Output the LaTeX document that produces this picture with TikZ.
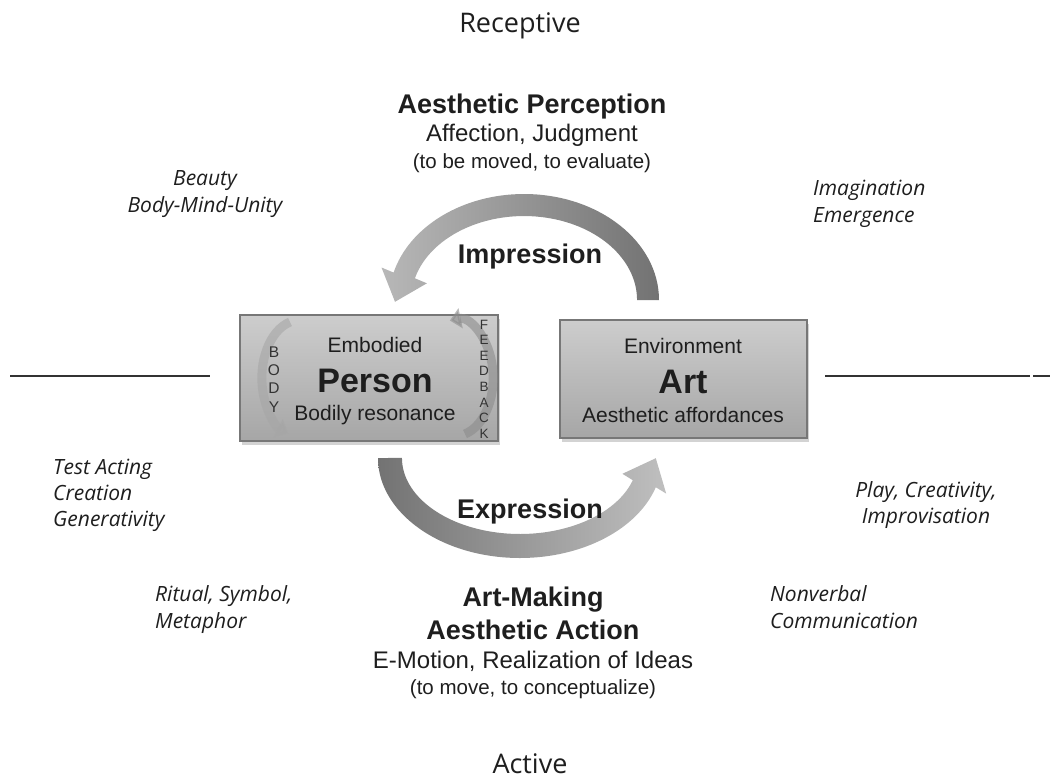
\documentclass[tikz,border=0pt]{standalone}
\usepackage{fontspec}
\setmainfont{Liberation Sans}
\newfontfamily\osans{Open Sans}
\usetikzlibrary{arrows.meta,shadows}
\newcommand\myfs[1]{\fontsize{#1}{#1}\selectfont}
\definecolor{txt}{HTML}{1E1E1E}
\definecolor{boxtop}{HTML}{CDCDCD}
\definecolor{boxbot}{HTML}{A6A6A6}
\definecolor{boxedge}{HTML}{777777}
\definecolor{linec}{HTML}{333333}
\tikzset{
  lbl/.style={inner sep=0pt, text=txt},
  head/.style={lbl, font=\bfseries\myfs{27}, anchor=base},
  sub/.style={lbl, font=\myfs{24}, anchor=base},
  paren/.style={lbl, font=\myfs{20.5}, anchor=base},
  sidel/.style={lbl, font=\osans\itshape\myfs{21}, anchor=base west},
  sidec/.style={lbl, font=\osans\itshape\myfs{21}, anchor=base},
  pole/.style={lbl, font=\osans\myfs{27}, anchor=base},
  boxbig/.style={lbl, font=\bfseries\myfs{34}, anchor=base},
  boxsm/.style={lbl, font=\myfs{21}, anchor=base},
  letter/.style={lbl, anchor=base, text=black!80},
  pbox/.style={draw=boxedge, line width=1.5pt, top color=boxtop, bottom color=boxbot,
    drop shadow={shadow xshift=2pt, shadow yshift=-4pt, opacity=0.35}, inner sep=0pt},
  axisline/.style={draw=linec, line width=2pt},
  smallarc/.style={line width=9pt, opacity=0.6, -{Triangle[width=20pt,length=11pt]}},
}
\begin{document}
\begin{tikzpicture}[x=1pt,y=-1pt]
\useasboundingbox (0,0) rectangle (1050,780);

% poles
\node[pole] (rec) at (520,32) {Receptive};
\node[pole] (act) at (530,773) {Active};

% axis lines
\coordinate (l1) at (10,376); \coordinate (l2) at (210,376);
\coordinate (r1) at (825,376); \coordinate (r2) at (1030,376);
\coordinate (r3) at (1033,376); \coordinate (r4) at (1050,376);
\draw[axisline] (l1) -- (l2);
\draw[axisline] (r1) -- (r2);
\draw[axisline] (r3) -- (r4);

% top headings
\node[head] (ap) at (532,113) {Aesthetic Perception};
\node[sub] (aj) at (532,141) {Affection, Judgment};
\node[paren] (tbm) at (532,168) {(to be moved, to evaluate)};

% Impression arrow
\shade[left color=black!28, right color=black!55]
  (659,300) arc[start angle=0,end angle=-165,x radius=135,y radius=106]
  -- (381.5,267.5) -- (395.0,301.8) -- (426.9,283.3) -- (414.9,278.3)
  arc[start angle=-165,end angle=0,x radius=113,y radius=84] -- cycle;
\node[head] (imp) at (530,263) {Impression};

% Expression arrow
\shade[left color=black!55, right color=black!25]
  (378,458) arc[start angle=180,end angle=17,x radius=142,y radius=100]
  -- (666.2,493.6) -- (655.8,458.2) -- (622.4,473.8) -- (632.8,480.2)
  arc[start angle=17,end angle=180,x radius=118,y radius=76] -- cycle;
\node[head] (exp) at (530,518) {Expression};

% boxes
\node[pbox, minimum width=258pt, minimum height=126pt] (person) at (369,378) {};
\node[pbox, minimum width=247pt, minimum height=118pt] (art) at (683.5,379) {};

% inner small arrows in person box
\draw[smallarc, draw=black!35] (290,322) arc[start angle=-105,end angle=-252,x radius=38,y radius=58];
\draw[smallarc, draw=black!45] (465,434) arc[start angle=75,end angle=-98,x radius=38,y radius=58];

\node[boxsm] (emb) at (375,352) {Embodied};
\node[boxbig] (pers) at (375,392) {Person};
\node[boxsm] (bres) at (375,420) {Bodily resonance};

\node[boxsm] (env) at (683,353) {Environment};
\node[boxbig] (artt) at (683,393) {Art};
\node[boxsm] (aaff) at (683,422) {Aesthetic affordances};

% BODY letters
\foreach \c/\yy [count=\i] in {B/357,O/375,D/393,Y/412}
  \node[letter, font=\myfs{15.5}] (body\i) at (274,\yy) {\c};
% FEEDBACK letters
\foreach \c [count=\i] in {F,E,E,D,B,A,C,K}
  \node[letter, font=\myfs{13.5}] (fb\i) at (484,{329+(\i-1)*15.6}) {\c};

% side labels
\node[sidec] (beauty) at (205,185) {Beauty};
\node[sidec] (bmu) at (205,212) {Body-Mind-Unity};
\node[sidel] (imag) at (813,195) {Imagination};
\node[sidel] (emer) at (813,222) {Emergence};
\node[sidel] (test) at (53,474) {Test Acting};
\node[sidel] (crea) at (53,500) {Creation};
\node[sidel] (gen) at (53,526) {Generativity};
\node[sidec] (play) at (926,497) {Play, Creativity,};
\node[sidec] (impr) at (926,523) {Improvisation};
\node[sidel] (rit) at (155,601) {Ritual, Symbol,};
\node[sidel] (meta) at (155,628) {Metaphor};
\node[sidel] (nonv) at (770,601) {Nonverbal};
\node[sidel] (comm) at (770,628) {Communication};

% bottom headings
\node[head] (am) at (533,606) {Art-Making};
\node[head] (aa) at (533,639) {Aesthetic Action};
\node[sub] (emo) at (533,668) {E-Motion, Realization of Ideas};
\node[paren] (tm) at (533,694) {(to move, to conceptualize)};
\end{tikzpicture}
\end{document}
